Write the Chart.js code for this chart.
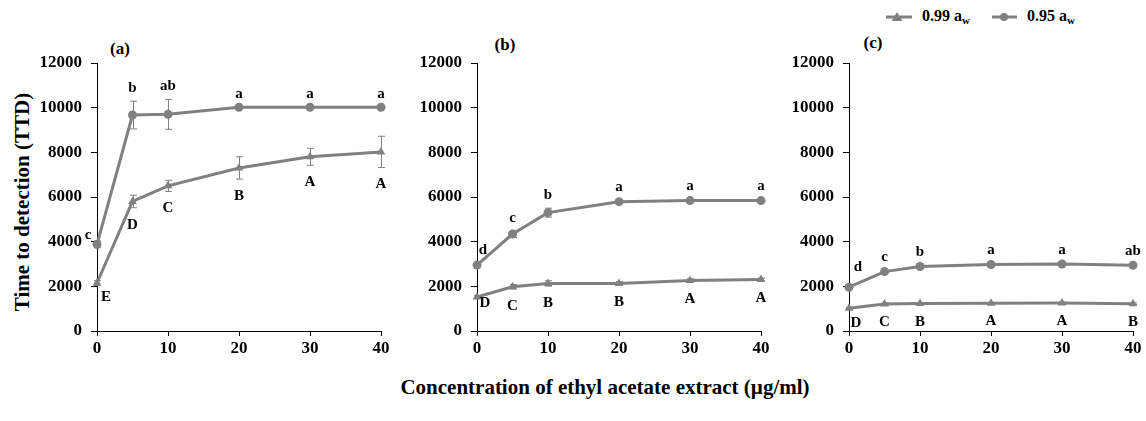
<!DOCTYPE html>
<html>
<head>
<meta charset="utf-8">
<script src="https://cdn.jsdelivr.net/npm/chart.js@4"></script>
<style>
  body { margin: 0; background: #fff; }
  #wrap { position: relative; width: 1146px; height: 421px; font-family: "Liberation Serif", "Times New Roman", serif; font-weight: bold; color: #000; }
  canvas { position: absolute; }
  .tag { position: absolute; font-size: 17px; transform: translate(-50%, -50%); white-space: nowrap; }
  #ytitle { position: absolute; left: 22px; top: 202px; font-size: 21px; transform: translate(-50%, -50%) rotate(-90deg); white-space: nowrap; }
  #xtitle { position: absolute; left: 605px; top: 387px; font-size: 21px; transform: translate(-50%, -50%); white-space: nowrap; }
  #legend { position: absolute; left: 886px; top: 7px; font-size: 16px; display: flex; align-items: center; white-space: nowrap; }
  #legend .item { display: flex; align-items: center; }
  #legend .item + .item { margin-left: 22px; }
  #legend svg { margin-right: 10px; }
  #legend sub { font-size: 11px; vertical-align: -3px; }
</style>
</head>
<body>
<div id="wrap">
  <div id="legend">
    <span class="item"><svg width="26" height="12"><line x1="0" y1="6" x2="26" y2="6" stroke="#808080" stroke-width="3"/><polygon points="11,1 16.5,10 5.5,10" fill="#808080"/></svg><span>0.99 a<sub>w</sub></span></span>
    <span class="item"><svg width="25" height="12"><line x1="0" y1="6" x2="25" y2="6" stroke="#808080" stroke-width="3"/><circle cx="12" cy="6" r="4" fill="#808080"/></svg><span>0.95 a<sub>w</sub></span></span>
  </div>
  <div id="ytitle">Time to detection (TTD)</div>
  <div id="xtitle">Concentration of ethyl acetate extract (µg/ml)</div>
</div>
<script>
const conc = [0, 5, 10, 20, 30, 40];
const xTicks = [0, 10, 20, 30, 40];
const yTicks = [0, 2000, 4000, 6000, 8000, 10000, 12000];
const seriesNames = ['0.99 aw', '0.95 aw'];

// panel (a)
const a99 = [2150, 5800, 6500, 7300, 7800, 8020];
const a99Err = [100, 280, 250, 500, 380, 700];
const a95 = [3880, 9670, 9700, 10020, 10020, 10020];
const a95Err = [150, 620, 670, 0, 0, 0];
const a99Letters = ['E', 'D', 'C', 'B', 'A', 'A'];
const a95Letters = ['c', 'b', 'ab', 'a', 'a', 'a'];

// panel (b)
const b99 = [1520, 1980, 2130, 2130, 2260, 2310];
const b99Err = [60, 100, 120, 80, 80, 60];
const b95 = [2950, 4340, 5300, 5790, 5840, 5840];
const b95Err = [80, 150, 200, 80, 60, 60];
const b99Letters = ['D', 'C', 'B', 'B', 'A', 'A'];
const b95Letters = ['d', 'c', 'b', 'a', 'a', 'a'];

// panel (c)
const c99 = [1020, 1210, 1230, 1240, 1250, 1220];
const c99Err = [40, 50, 50, 40, 40, 40];
const c95 = [1960, 2660, 2890, 2980, 3000, 2940];
const c95Err = [60, 60, 60, 60, 60, 60];
const c99Letters = ['D', 'C', 'B', 'A', 'A', 'B'];
const c95Letters = ['d', 'c', 'b', 'a', 'a', 'ab'];

const GREY = '#808080';
const FONT = '"Liberation Serif", "Times New Roman", serif';

const panels = [
  { tag: '(a)', left: 37, tagX: 120, tagY: 49, hi: a95, hiErr: a95Err, hiL: a95Letters, lo: a99, loErr: a99Err, loL: a99Letters, firstHi: [-9, -9], firstLo: [9, 14] },
  { tag: '(b)', left: 417, tagX: 505, tagY: 45, hi: b95, hiErr: b95Err, hiL: b95Letters, lo: b99, loErr: b99Err, loL: b99Letters, firstHi: [6, -15], firstLo: [8, 6] },
  { tag: '(c)', left: 789, tagX: 873, tagY: 43, hi: c95, hiErr: c95Err, hiL: c95Letters, lo: c99, loErr: c99Err, loL: c99Letters, firstHi: [9, -20], firstLo: [7, 15] },
];

// error bars + significance letters
const marksPlugin = {
  id: 'marks',
  beforeDatasetsDraw(chart) {
    const ctx = chart.ctx, x = chart.scales.x, y = chart.scales.y;
    ctx.save();
    ctx.strokeStyle = GREY;
    ctx.lineWidth = 1;
    chart.data.datasets.forEach(ds => {
      ds.data.forEach((p, i) => {
        const e = ds.err[i];
        if (!e) return;
        const px = Math.round(x.getPixelForValue(p.x)) + 0.5;
        const t = y.getPixelForValue(p.y + e), b = y.getPixelForValue(p.y - e);
        ctx.beginPath();
        ctx.moveTo(px, t); ctx.lineTo(px, b);
        ctx.moveTo(px - 3.5, t); ctx.lineTo(px + 3.5, t);
        ctx.moveTo(px - 3.5, b); ctx.lineTo(px + 3.5, b);
        ctx.stroke();
      });
    });
    ctx.restore();
  },
  afterDatasetsDraw(chart) {
    const ctx = chart.ctx, x = chart.scales.x, y = chart.scales.y;
    ctx.save();
    ctx.fillStyle = '#000';
    ctx.font = 'bold 15px ' + FONT;
    ctx.textAlign = 'center';
    ctx.textBaseline = 'middle';
    chart.data.datasets.forEach(ds => {
      ds.data.forEach((p, i) => {
        const px = x.getPixelForValue(p.x);
        let tx = px, ty;
        if (i === 0) {
          tx += ds.first[0];
          ty = y.getPixelForValue(p.y) + ds.first[1];
        } else if (ds.above) {
          ty = y.getPixelForValue(p.y + ds.err[i]) - 13;
        } else {
          ty = y.getPixelForValue(p.y - ds.err[i]) + 17;
        }
        ctx.fillText(ds.letters[i], tx, ty);
      });
    });
    ctx.restore();
  }
};

const wrap = document.getElementById('wrap');

panels.forEach(pn => {
  const tag = document.createElement('div');
  tag.className = 'tag';
  tag.style.left = pn.tagX + 'px';
  tag.style.top = pn.tagY + 'px';
  tag.textContent = pn.tag;
  wrap.appendChild(tag);

  const cv = document.createElement('canvas');
  cv.width = 356; cv.height = 331;
  cv.style.left = pn.left + 'px';
  cv.style.top = '30px';
  wrap.appendChild(cv);

  const mk = (vals, err, letters, style, r, above, first, label) => ({
    label,
    data: conc.map((c, i) => ({ x: c, y: vals[i] })),
    err, letters, above, first,
    borderColor: GREY,
    backgroundColor: GREY,
    borderWidth: 3,
    pointStyle: style,
    pointRadius: r,
    pointBorderWidth: 0,
    pointBackgroundColor: GREY,
    tension: 0,
    clip: false,
  });

  new Chart(cv, {
    type: 'line',
    data: {
      datasets: [
        mk(pn.lo, pn.loErr, pn.loL, 'triangle', 5, false, pn.firstLo, seriesNames[0]),
        mk(pn.hi, pn.hiErr, pn.hiL, 'circle', 4.5, true, pn.firstHi, seriesNames[1]),
      ]
    },
    options: {
      responsive: false,
      animation: false,
      devicePixelRatio: 1,
      layout: { padding: { top: 33, right: 12, left: 0, bottom: 0 } },
      plugins: { legend: { display: false }, tooltip: { enabled: false } },
      scales: {
        x: {
          type: 'linear', min: 0, max: 40,
          afterBuildTicks: s => { s.ticks = xTicks.map(v => ({ value: v })); },
          afterFit: s => { s.height = 30; },
          border: { display: true, color: '#000', width: 1 },
          grid: { drawOnChartArea: false, drawTicks: true, tickLength: 5, color: '#000' },
          ticks: { color: '#000', padding: 2, maxRotation: 0, font: { family: FONT, size: 17, weight: 'bold' } },
        },
        y: {
          type: 'linear', min: 0, max: 12000,
          afterBuildTicks: s => { s.ticks = yTicks.map(v => ({ value: v })); },
          afterFit: s => { s.width = 60; },
          border: { display: true, color: '#000', width: 1 },
          grid: { drawOnChartArea: false, drawTicks: true, tickLength: 6, color: '#000' },
          ticks: { color: '#000', padding: 9, callback: v => String(v), font: { family: FONT, size: 17, weight: 'bold' } },
        },
      },
    },
    plugins: [marksPlugin],
  });
});
</script>
</body>
</html>
